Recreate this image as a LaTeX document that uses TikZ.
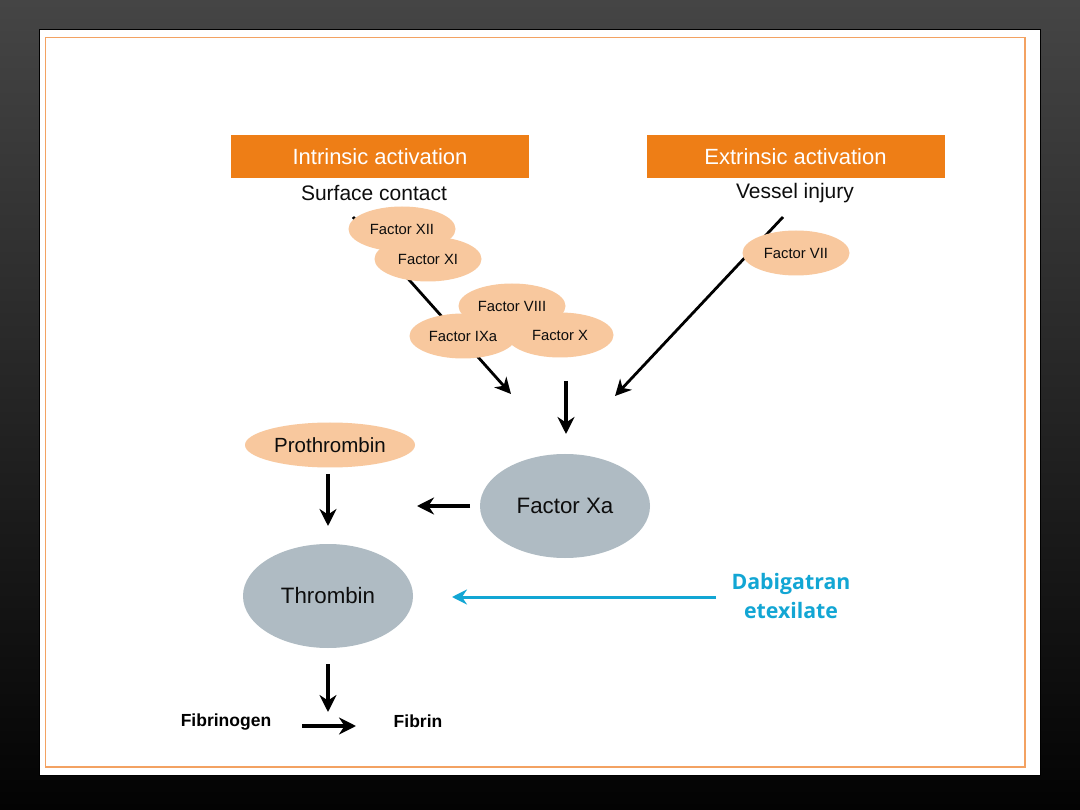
\documentclass[tikz,border=0pt]{standalone}
\usepackage{fontspec}
\setmainfont{Liberation Sans}
\newfontfamily\dabfont{Open Sans}
\usetikzlibrary{shapes.geometric,arrows.meta}
\definecolor{bgtop}{HTML}{454545}
\definecolor{bgmid}{HTML}{1C1C1C}
\definecolor{bgbot}{HTML}{030303}
\definecolor{hdr}{HTML}{EE7E16}
\definecolor{frameor}{HTML}{F3A262}
\definecolor{peach}{HTML}{F8C89E}
\definecolor{greyel}{HTML}{AFBBC3}
\definecolor{cyanar}{HTML}{12A6D4}
\definecolor{txt}{HTML}{0D0D0D}
\tikzset{
  hdrbox/.style={rectangle, fill=hdr, minimum width=298pt, minimum height=43pt, inner sep=0pt,
    text=white, font=\fontsize{22}{25}\selectfont},
  subtxt/.style={inner sep=0pt, text=txt, font=\fontsize{21}{24}\selectfont},
  factor/.style={ellipse, fill=peach, minimum width=107pt, minimum height=45pt, inner sep=0pt,
    text=txt, font=\fontsize{14.8}{17}\selectfont},
  bigel/.style={ellipse, fill=greyel, minimum width=170pt, minimum height=104pt, inner sep=0pt,
    text=txt, font=\fontsize{22.3}{26}\selectfont},
  protel/.style={ellipse, fill=peach, minimum width=170pt, minimum height=45pt, inner sep=0pt,
    text=txt, font=\fontsize{20.5}{24}\selectfont},
  boldtxt/.style={inner sep=0pt, text=black, font=\bfseries\fontsize{17.5}{20}\selectfont},
  dabtxt/.style={inner sep=0pt, text=cyanar, align=center, font=\dabfont\bfseries\fontsize{21.3}{29}\selectfont},
  arr/.style={-{Stealth[length=17pt,width=17pt,inset=5.5pt]}, line width=3.6pt, black},
  darr/.style={-{Stealth[length=16pt,width=16pt,inset=5pt]}, line width=2.8pt, black},
  carr/.style={-{Stealth[length=15pt,width=15pt,inset=5pt]}, line width=3pt, cyanar},
}
\begin{document}
\begin{tikzpicture}[x=1pt,y=-1pt]
\useasboundingbox (0,0) rectangle (1080,810);
\shade[top color=bgtop,middle color=bgmid,bottom color=bgbot] (0,0) rectangle (1080,810);
\draw[fill=white, draw=black, line width=1pt] (39,30) rectangle (1040,775);
\draw[frameor, line width=1.5pt] (45.5,37.5) rectangle (1025,767);

% headers
\node[hdrbox] (intr) at (380,156.5) {Intrinsic activation};
\node[hdrbox] (extr) at (795.5,156.5) {Extrinsic activation};
\node[subtxt] (surf) at (374,193) {Surface contact};
\node[subtxt] (vess) at (795,193) {Vessel injury};

% connector coordinates
\coordinate (istart) at (353,217);
\coordinate (iend) at (511,394);
\coordinate (estart) at (783,217);
\coordinate (eend) at (615,396);

\draw[darr] (istart) -- (iend);
\draw[darr] (estart) -- (eend);

% factors
\node[factor] (f12) at (402,229) {Factor XII};
\node[factor] (f11) at (428,259) {Factor XI};
\node[factor] (f8) at (512,306) {Factor VIII};
\node[factor] (f9) at (463,336) {Factor IXa};
\node[factor] (f10) at (560,335) {Factor X};
\node[factor] (f7) at (796,253) {Factor VII};

% main
\node[bigel] (fxa) at (565,506) {Factor Xa};
\node[protel] (proth) at (330,445) {Prothrombin};
\node[bigel] (thromb) at (328,596) {Thrombin};

\coordinate (vtop) at (566,381);
\coordinate (vbot) at (566,434);
\draw[arr] (vtop) -- (vbot);

\coordinate (xaL) at (470,506);
\coordinate (xaLend) at (417,506);
\draw[arr] (xaL) -- (xaLend);

\coordinate (pbot) at (328,474);
\coordinate (pend) at (328,526);
\draw[arr] (pbot) -- (pend);

\node[dabtxt] (dab) at (791,596) {Dabigatran\\etexilate};
\coordinate (cstart) at (716,597);
\coordinate (cend) at (452,597);
\draw[carr] (cstart) -- (cend);

\coordinate (tbot) at (328,664);
\coordinate (tend) at (328,712);
\draw[arr] (tbot) -- (tend);

\node[boldtxt] (fibg) at (226,722) {Fibrinogen};
\node[boldtxt] (fib) at (418,721) {Fibrin};
\coordinate (fa) at (302,726);
\coordinate (fb) at (356,726);
\draw[arr] (fa) -- (fb);
\end{tikzpicture}
\end{document}
